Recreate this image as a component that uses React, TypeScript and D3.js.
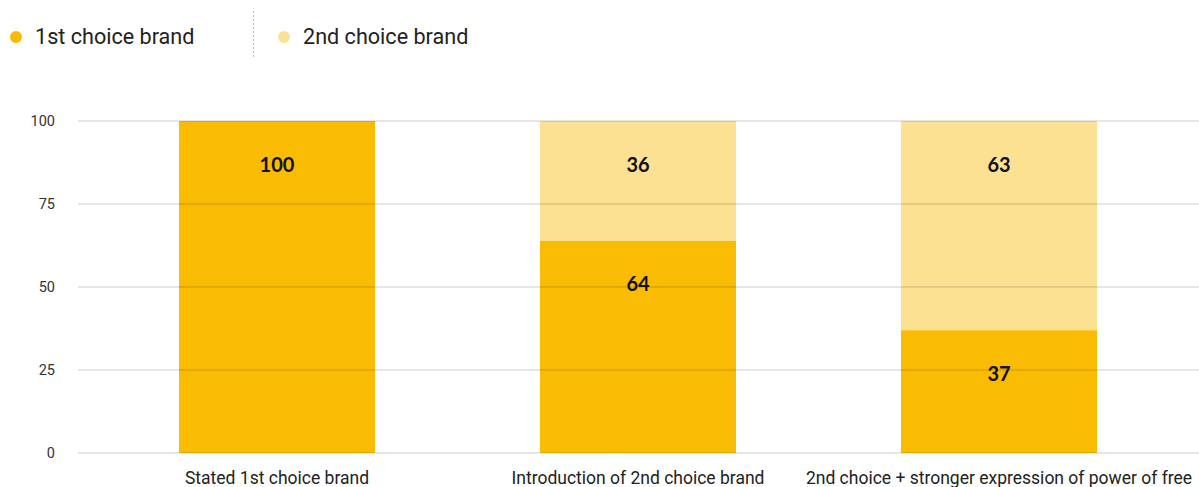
import React from "react";
import * as d3 from "d3";

const categories = [
  "Stated 1st choice brand",
  "Introduction of 2nd choice brand",
  "2nd choice + stronger expression of power of free",
];
const firstChoice = [100, 64, 37];
const secondChoice = [0, 36, 63];
const yTicks = [0, 25, 50, 75, 100];
const seriesNames = ["1st choice brand", "2nd choice brand"];
const colors = ["#FABC03", "#FDE193"];

const W = 1199;
const H = 487;

export default function App() {
  const x = d3.scaleBand<string>().domain(categories).range([96.5, 1179.5]).padding(0);
  const y = d3.scaleLinear().domain([0, 100]).range([453, 121]);
  const barW = x.bandwidth() * 0.543;

  return (
    <svg width={W} height={H} style={{ position: "absolute", left: 0, top: 0 }}>
      {/* legend */}
      <g fontFamily="Roboto" fontSize={21.6} fill="#222">
        <circle cx={16} cy={37} r={6} fill={colors[0]} />
        <text x={35} y={44}>{seriesNames[0]}</text>
        <line x1={253.5} x2={253.5} y1={11} y2={59} stroke="#bbb" strokeDasharray="2,2" />
        <circle cx={284} cy={37} r={6} fill={colors[1]} />
        <text x={303} y={44}>{seriesNames[1]}</text>
      </g>
      {/* bars */}
      {categories.map((c, i) => {
        const cx = (x(c) as number) + x.bandwidth() / 2;
        const x0 = cx - barW / 2;
        return (
          <g key={c}>
            <rect x={x0} width={barW} y={y(firstChoice[i])} height={y(0) - y(firstChoice[i])} fill={colors[0]} />
            {secondChoice[i] > 0 && (
              <rect
                x={x0}
                width={barW}
                y={y(firstChoice[i] + secondChoice[i])}
                height={y(firstChoice[i]) - y(firstChoice[i] + secondChoice[i])}
                fill={colors[1]}
              />
            )}
          </g>
        );
      })}
      {/* gridlines on top */}
      <g>
        {yTicks.map((t) => (
          <g key={t}>
            <line x1={78} x2={1199} y1={y(t)} y2={y(t)} stroke="#000" strokeOpacity={0.2} strokeWidth={1.2} />
            <text x={55} y={y(t) + 5} textAnchor="end" fontFamily="Roboto" fontSize={14.5} fill="#333">
              {t}
            </text>
          </g>
        ))}
      </g>
      {/* value labels */}
      {categories.map((c, i) => {
        const cx = (x(c) as number) + x.bandwidth() / 2;
        return (
          <g key={"l" + c} fontFamily="Lato" fontWeight={700} fontSize={20} fill="#111" textAnchor="middle">
            <text x={cx} y={y(firstChoice[i]) + 50.5}>{firstChoice[i]}</text>
            {secondChoice[i] > 0 && (
              <text x={cx} y={y(firstChoice[i] + secondChoice[i]) + 50.5}>{secondChoice[i]}</text>
            )}
          </g>
        );
      })}
      {/* category labels */}
      {categories.map((c) => (
        <text
          key={"c" + c}
          x={(x(c) as number) + x.bandwidth() / 2}
          y={484}
          textAnchor="middle"
          fontFamily="Roboto"
          fontSize={17.5}
          fill="#222"
        >
          {c}
        </text>
      ))}
    </svg>
  );
}
